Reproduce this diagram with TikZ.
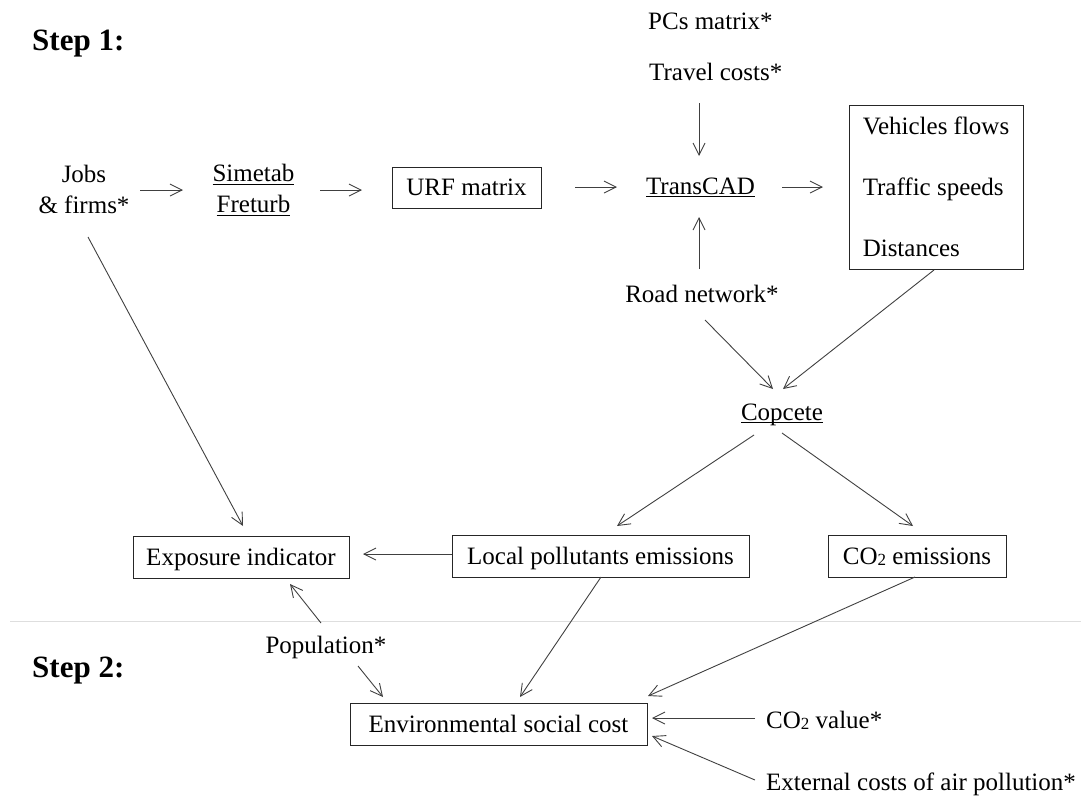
\documentclass[tikz,border=0pt]{standalone}
\usepackage{fontspec}
\setmainfont{Liberation Serif}
\usetikzlibrary{arrows.meta}
\newcommand\myul[1]{\setbox0\hbox{#1}\rlap{\rule[-3pt]{\wd0}{1.1pt}}\box0}
\newcommand\twosub{\raisebox{-1pt}{\fontsize{17}{17}\selectfont 2}}
\tikzset{
  lbl/.style={inner sep=0pt, font=\fontsize{25}{31}\selectfont},
  steplbl/.style={inner sep=0pt, font=\fontsize{31}{31}\selectfont\bfseries, anchor=base west},
  box/.style={draw=black!85, line width=1pt, inner sep=0pt, font=\fontsize{25}{31}\selectfont,
    text height=18.75pt, text depth=2.5pt, minimum height=42pt},
  arr/.style={draw=black!75, line width=0.9pt, -{Straight Barb[length=12pt,width=12pt,line width=0.9pt]}},
}
\begin{document}
\begin{tikzpicture}[x=1pt,y=-1pt]
\useasboundingbox (0,0) rectangle (1081,796);
% separator
\draw[black!13, line width=1.5pt] (10,621.5) -- (1081,621.5);
% labels
\node[steplbl] (step1) at (32,50) {Step 1:};
\node[steplbl] (step2) at (32,677) {Step 2:};
% text nodes
\node[lbl, align=center] (jobs) at (84,189) {Jobs\\\& firms*};
\node[lbl, align=center] (sim) at (253.5,190) {\myul{Simetab}\\\myul{Freturb}};
\node[lbl, anchor=base] (trans) at (700.5,194) {\myul{TransCAD}};
\node[lbl, anchor=base west] (pcs) at (648,29) {PCs matrix*};
\node[lbl, anchor=base west] (travel) at (649,80) {Travel costs*};
\node[lbl, anchor=base] (road) at (702,302) {Road network*};
\node[lbl, anchor=base] (cop) at (782,420) {\myul{Copcete}};
\node[lbl, anchor=base] (pop) at (326,653) {Population*};
\node[lbl, anchor=base west] (co2v) at (766,728) {CO\twosub{} value*};
\node[lbl, anchor=base west] (ext) at (766,790) {External costs of air pollution*};
% boxes
\node[box, minimum width=149pt, minimum height=41pt] (urf) at (466.5,187.5) {URF matrix};
\node[draw=black!85, line width=1pt, inner sep=0pt, align=left,
      font=\fontsize{25}{61}\selectfont, minimum width=174pt, minimum height=164pt]
      (veh) at (936,187) {Vehicles flows\\Traffic speeds\\Distances};
\node[box, minimum width=216pt] (exp) at (241,557) {Exposure indicator};
\node[box, minimum width=297pt] (loc) at (600.5,556) {Local pollutants emissions};
\node[box, minimum width=178pt] (co2e) at (917,556) {CO\twosub{} emissions};
\node[box, minimum width=297pt] (env) at (498.5,724) {Environmental social cost};
% connectors
\draw[arr] ([shift={(56,1)}]jobs.center) -- ([shift={(-70.5,0)}]sim.center);
\draw[arr] ([shift={(66.5,0)}]sim.center) -- ([shift={(-104.5,2.5)}]urf.center);
\draw[arr] ([shift={(108.5,-0.5)}]urf.center) -- ([shift={(-83.5,-7)}]trans.base);
\draw[arr] ([shift={(81.5,-7)}]trans.base) -- ([shift={(-113,0)}]veh.center);
\draw[arr] ([shift={(50,23)}]travel.base west) -- ([shift={(-1.5,-38)}]trans.base);
\draw[arr] ([shift={(-3,-33)}]road.base) -- ([shift={(-1.5,23)}]trans.base);
\draw[arr] ([shift={(3,18)}]road.base) -- ([shift={(-9,-31)}]cop.base);
\draw[arr] ([shift={(-2,83)}]veh.center) -- ([shift={(1,-31)}]cop.base);
\draw[arr] ([shift={(-28,15)}]cop.base) -- ([shift={(16.5,-30)}]loc.center);
\draw[arr] ([shift={(0,13)}]cop.base) -- ([shift={(-4,-30)}]co2e.center);
\draw[arr] ([shift={(-148.5,-2)}]loc.center) -- ([shift={(122,-3)}]exp.center);
\draw[arr] ([shift={(4,48)}]jobs.center) -- ([shift={(2,-31)}]exp.center);
\draw[arr] ([shift={(-5,-30)}]pop.base) -- ([shift={(49,27)}]exp.center);
\draw[arr] ([shift={(32,13)}]pop.base) -- ([shift={(-115.5,-27)}]env.center);
\draw[arr] ([shift={(0.5,21)}]loc.center) -- ([shift={(21.5,-27)}]env.center);
\draw[arr] ([shift={(-2,21)}]co2e.center) -- ([shift={(149.5,-28)}]env.center);
\draw[arr] ([shift={(-11,-10)}]co2v.base west) -- ([shift={(153.5,-6)}]env.center);
\draw[arr] ([shift={(-11,-10)}]ext.base west) -- ([shift={(153.5,12)}]env.center);
\end{tikzpicture}
\end{document}
